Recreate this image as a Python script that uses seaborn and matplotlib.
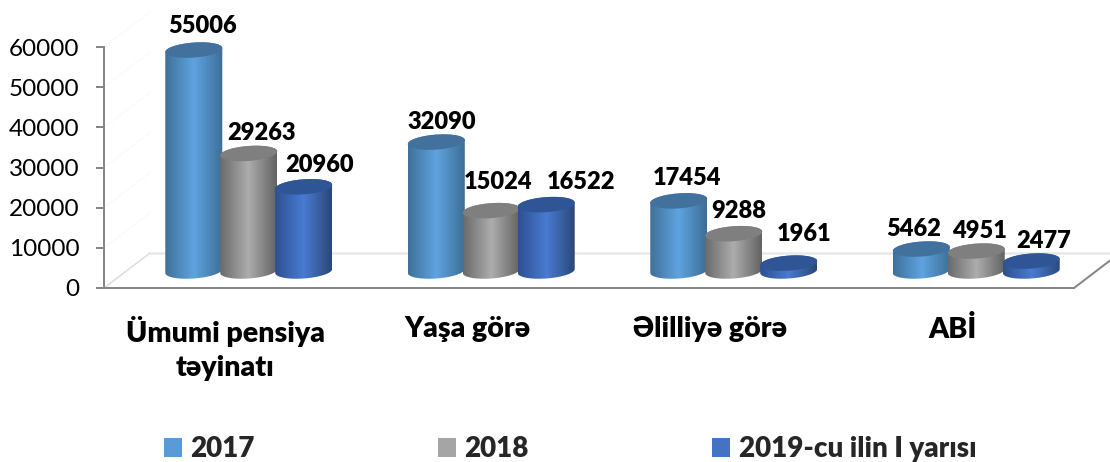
# 3D looking pension chart, cylinders drawn from the seaborn bars

import numpy as np
import pandas as pd
import seaborn as sns
import matplotlib.pyplot as plt
from matplotlib.colors import LinearSegmentedColormap
from matplotlib.lines import Line2D
from matplotlib.patches import PathPatch, Polygon, Rectangle
from matplotlib.path import Path
from matplotlib.transforms import Affine2D

categories = ["Ümumi pensiya\ntəyinatı", "Yaşa görə", "Əlilliyə görə", "ABİ"]
series_names = ["2017", "2018", "2019-cu ilin I yarısı"]
values_2017 = [55006, 32090, 17454, 5462]
values_2018 = [29263, 15024, 9288, 4951]
values_2019 = [20960, 16522, 1961, 2477]
y_ticks = [0, 10000, 20000, 30000, 40000, 50000, 60000]

# look of each series: edge, middle, edge, top face
face_colors = {"2017": "#5B9BD5", "2018": "#A5A5A5", "2019-cu ilin I yarısı": "#4472C4"}
shades = {
    "2017": ["#3E7199", "#5FA3E0", "#3D6E96", "#41719C"],
    "2018": ["#6A6A6A", "#ADADAD", "#636363", "#7F7F7F"],
    "2019-cu ilin I yarısı": ["#2D5092", "#4A7BD2", "#2A4878", "#2F5597"],
}

# label nudges from the top of each cylinder, in pixels
label_dx = [[9, 6, 8, -8], [13, 7, 5, 3], [16, 35, 15, 12]]
label_dy = [[24, 20, 23, 20], [20, 29, 23, 20], [22, 23, 29, 20]]

AXIS_GREY = "#868686"
PX = 100 / 72

sns.set_theme(style="white")
plt.rcParams["font.family"] = ["Lato", "Open Sans", "DejaVu Sans"]

df = pd.DataFrame({
    "category": categories * 3,
    "series": np.repeat(series_names, 4),
    "value": values_2017 + values_2018 + values_2019,
})

fig = plt.figure(figsize=(11.10, 4.62), dpi=100)
ax = fig.add_axes([104 / 1110, 1 - 288 / 462, 970 / 1110, 241 / 462])

sns.barplot(data=df, x="category", y="value", hue="series", hue_order=series_names,
            palette=face_colors, saturation=1, width=0.68, gap=0, legend=False, ax=ax)
bars = list(ax.patches)
for bar in bars:
    bar.set_visible(False)

ax.set_xlim(-0.5, 3.5)
ax.set_ylim(0, 60000)
x_per_px = 4 / 970
y_per_px = 60000 / 241

# floor and wall of the fake 3D box
wall_dx, wall_dy = 46, 35
origin = ax.transData.transform((-0.5, 0))
corner = ax.transData.transform((3.5, 0))
wall = ax.transData + Affine2D().translate(wall_dx, wall_dy)
for tick in y_ticks[1:]:
    base = ax.transData.transform((-0.5, tick))
    ax.add_line(Line2D([0, wall_dx], [0, wall_dy], color="#FAFAFA", lw=1,
                       transform=Affine2D().translate(*base), clip_on=False, zorder=0.5))
ax.add_line(Line2D([-0.5, 3.5], [0, 0], color="#E8E8E8", lw=2.5 / PX,
                   transform=wall, clip_on=False, zorder=0.6))
ax.add_line(Line2D([0, wall_dx], [0, wall_dy], color="#DCDCDC", lw=1.5 / PX,
                   transform=Affine2D().translate(*origin), clip_on=False, zorder=0.6))
ax.add_line(Line2D([0, 38], [0, 29], color=AXIS_GREY, lw=2 / PX,
                   transform=Affine2D().translate(*corner), clip_on=False, zorder=0.6))

# cylinders sit back and up from the axis line
shift = ax.transData + Affine2D().translate(23.5, 17)
rim_a = 28.5 * x_per_px
rim_b = 7.5 * y_per_px
tilt = 0.07 * y_per_px / x_per_px
angles = np.linspace(0, 2 * np.pi, 81)

for i, name in enumerate(series_names):
    cmap = LinearSegmentedColormap.from_list(name, [shades[name][0], shades[name][1], shades[name][2]])
    gradient = np.linspace(0, 1, 128).reshape(1, -1)
    for j in range(4):
        bar = bars[i * 4 + j]
        cx = bar.get_x() + bar.get_width() / 2
        h = bar.get_height()
        z = 2 + i + j * 0.01
        ex = rim_a * np.cos(angles)
        ey = rim_b * np.sin(angles) + tilt * ex
        lower = angles >= np.pi
        upper = angles <= np.pi
        outline = np.vstack([
            np.column_stack([cx + ex[lower], ey[lower]]),
            np.column_stack([cx + ex[upper], h + ey[upper]]),
        ])
        clip = PathPatch(Path(np.vstack([outline, outline[:1]])), facecolor="none",
                         edgecolor="none", transform=shift, clip_on=False, zorder=z)
        ax.add_patch(clip)
        im = ax.imshow(gradient, cmap=cmap, aspect="auto", interpolation="bilinear",
                       extent=(cx - rim_a, cx + rim_a, -3 * rim_b, h + 3 * rim_b),
                       transform=shift, zorder=z)
        im.set_clip_box(fig.bbox)
        im.set_clip_path(clip)
        ax.add_patch(Polygon(np.column_stack([cx + ex, h + ey]), closed=True,
                             facecolor=shades[name][3], edgecolor="none",
                             transform=shift, clip_on=False, zorder=z + 0.001))
        ax.text(cx + label_dx[i][j] * x_per_px, h + label_dy[i][j] * y_per_px, f"{int(h)}",
                ha="center", va="center", fontsize=17, fontweight="heavy", color="black",
                transform=shift, zorder=10)

ax.set_xlim(-0.5, 3.5)
ax.set_ylim(0, 60000)
ax.set_xlabel("")
ax.set_ylabel("")
ax.set_yticks(y_ticks)
ax.set_yticklabels([str(t) for t in y_ticks], fontsize=17.5, color="black")
ax.set_xticks(range(4))
ax.set_xticklabels(categories, fontsize=20.5, fontweight="heavy", color="black", linespacing=1.4)
ax.set_xticks(np.arange(-0.5, 4), minor=True)
ax.tick_params(axis="x", which="major", length=0, pad=20)
ax.tick_params(axis="x", which="minor", length=8 / PX, width=2 / PX, color=AXIS_GREY)
ax.tick_params(axis="y", length=8 / PX, width=2 / PX, color=AXIS_GREY, pad=12, left=True)
sns.despine(ax=ax)
for side in ["left", "bottom"]:
    ax.spines[side].set_color(AXIS_GREY)
    ax.spines[side].set_linewidth(2 / PX)

handles = [Rectangle((0, 0), 1, 1, facecolor=face_colors[n], edgecolor="none") for n in series_names]
fig.legend(handles, series_names, loc="center left", bbox_to_anchor=(164 / 1110, 1 - 449 / 462),
           ncol=3, frameon=False, borderpad=0, borderaxespad=0, handlelength=0.65, handleheight=0.65,
           handletextpad=0.3, columnspacing=6.6,
           prop={"size": 20, "weight": "heavy"})

fig.savefig("out.png", dpi=100)
